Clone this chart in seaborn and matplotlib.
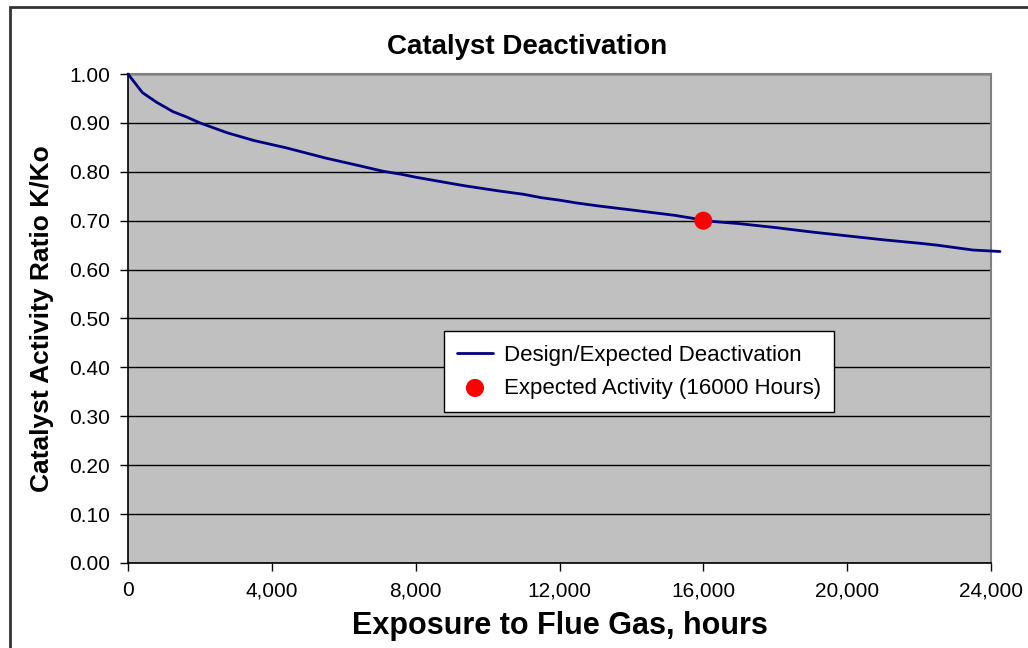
import matplotlib
matplotlib.use("Agg")
import matplotlib.pyplot as plt
from matplotlib.patches import Rectangle
from matplotlib.ticker import FuncFormatter, MultipleLocator
import seaborn as sns
import pandas as pd

# design curve
hours = [0, 400, 800, 1250, 1600, 2000, 2750, 3500, 4400, 5500, 6400, 7100,
         7600, 8000, 9000, 9400, 10300, 11000, 11500, 12000, 12500, 13100,
         14000, 15200, 15700, 16000, 17000, 18000, 19000, 20000, 21000,
         22000, 22500, 23000, 23500, 24250]
ratio = [1.000, 0.962, 0.942, 0.923, 0.913, 0.900, 0.880, 0.864, 0.849,
         0.828, 0.813, 0.801, 0.795, 0.789, 0.776, 0.771, 0.761, 0.754,
         0.747, 0.742, 0.736, 0.730, 0.722, 0.711, 0.705, 0.700, 0.694,
         0.686, 0.677, 0.669, 0.661, 0.654, 0.650, 0.645, 0.640, 0.637]

point_hours = [16000]
point_ratio = [0.70]

curve = pd.DataFrame({"hours": hours, "ratio": ratio})
point = pd.DataFrame({"hours": point_hours, "ratio": point_ratio})

sns.set_style("white")
plt.rcParams["font.family"] = ["Liberation Sans", "DejaVu Sans"]
plt.rcParams["text.color"] = "black"
plt.rcParams["axes.labelcolor"] = "black"
plt.rcParams["xtick.color"] = "black"
plt.rcParams["ytick.color"] = "black"

fig = plt.figure(figsize=(10.28, 6.48), dpi=100)
ax = fig.add_axes([128 / 1028, 1 - 563 / 648, 863 / 1028, 489 / 648])
ax.set_facecolor("#C0C0C0")

sns.lineplot(data=curve, x="hours", y="ratio", ax=ax, color="#000080",
             linewidth=2, label="Design/Expected Deactivation", zorder=3)
ax.lines[0].set_clip_on(False)
sns.scatterplot(data=point, x="hours", y="ratio", ax=ax, color="#FF0000",
                s=170, edgecolor="none", label="Expected Activity (16000 Hours)",
                zorder=4)

ax.set_xlim(0, 24000)
ax.set_ylim(0, 1.0)
ax.xaxis.set_major_locator(MultipleLocator(4000))
ax.yaxis.set_major_locator(MultipleLocator(0.1))
ax.xaxis.set_major_formatter(FuncFormatter(lambda v, p: f"{int(v):,}"))
ax.yaxis.set_major_formatter(FuncFormatter(lambda v, p: f"{v:.2f}"))
ax.grid(axis="y", color="black", linewidth=1)
ax.grid(axis="x", visible=False)
ax.tick_params(axis="both", direction="out", length=6, width=1,
               color="black", labelcolor="black", labelsize=15, pad=7,
               bottom=True, left=True)

for s in ["left", "bottom"]:
    ax.spines[s].set_color("black")
    ax.spines[s].set_linewidth(1.2)
for s in ["top", "right"]:
    ax.spines[s].set_color("#808080")
    ax.spines[s].set_linewidth(1.5)

fig.text(527 / 1028, 1 - 47 / 648, "Catalyst Deactivation", fontsize=20,
         fontweight="bold", ha="center", va="center")
ax.set_xlabel("Exposure to Flue Gas, hours", fontsize=22, fontweight="bold",
              labelpad=8)
ax.set_ylabel("Catalyst Activity Ratio K/Ko", fontsize=19, fontweight="bold",
              labelpad=11)

leg = ax.legend(loc="upper left", bbox_to_anchor=(0.366, 0.474),
                borderaxespad=0, frameon=True, fancybox=False,
                edgecolor="black", facecolor="white", framealpha=1,
                fontsize=16, handlelength=1.6, borderpad=0.6,
                labelspacing=0.55, handletextpad=0.5)
leg.get_frame().set_linewidth(1)

fig.add_artist(Rectangle((10 / 1028, -0.5), 2, 0.5 + (1 - 7 / 648),
                         transform=fig.transFigure, fill=False,
                         edgecolor="#333333", linewidth=2))

fig.savefig("out.png", dpi=100)
